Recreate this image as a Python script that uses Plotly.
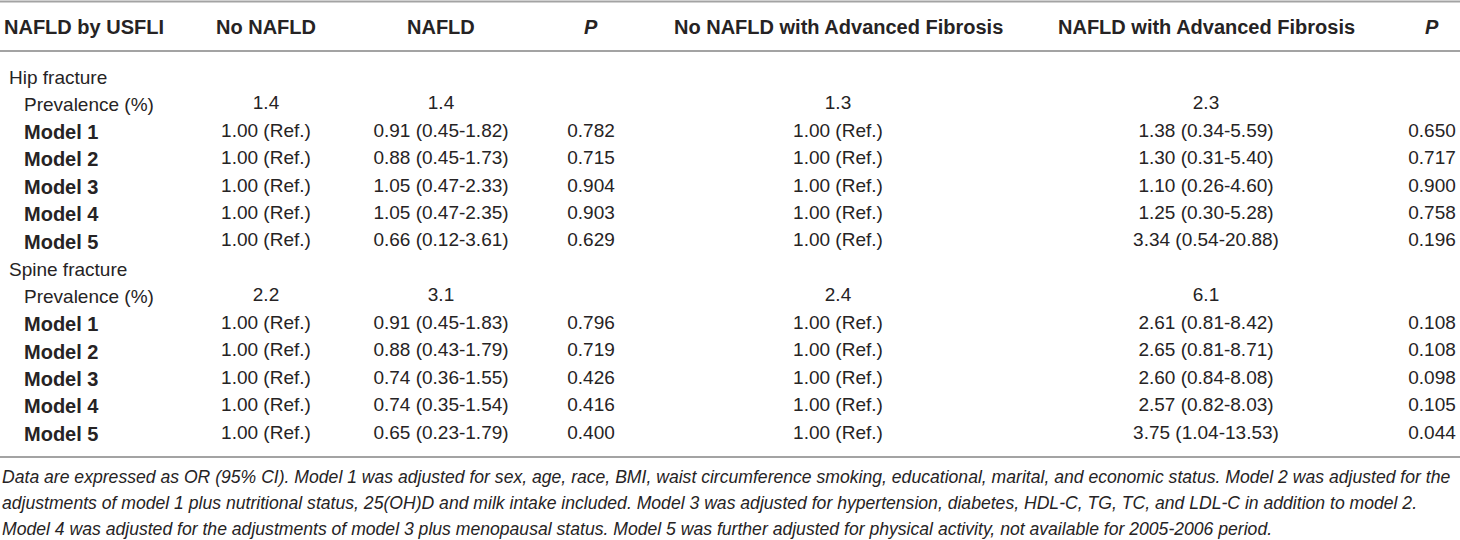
import plotly.graph_objects as go

# table content
header = ["NAFLD by USFLI", "No NAFLD", "NAFLD", "P",
          "No NAFLD with Advanced Fibrosis", "NAFLD with Advanced Fibrosis", "P"]

row_labels = ["Hip fracture", "Prevalence (%)", "Model 1", "Model 2", "Model 3", "Model 4", "Model 5",
              "Spine fracture", "Prevalence (%)", "Model 1", "Model 2", "Model 3", "Model 4", "Model 5"]
row_level = [0, 1, 2, 2, 2, 2, 2, 0, 1, 2, 2, 2, 2, 2]  # 0 group, 1 plain sub row, 2 bold model row

no_nafld = ["", "1.4", "1.00 (Ref.)", "1.00 (Ref.)", "1.00 (Ref.)", "1.00 (Ref.)", "1.00 (Ref.)",
            "", "2.2", "1.00 (Ref.)", "1.00 (Ref.)", "1.00 (Ref.)", "1.00 (Ref.)", "1.00 (Ref.)"]
nafld = ["", "1.4", "0.91 (0.45-1.82)", "0.88 (0.45-1.73)", "1.05 (0.47-2.33)", "1.05 (0.47-2.35)",
         "0.66 (0.12-3.61)",
         "", "3.1", "0.91 (0.45-1.83)", "0.88 (0.43-1.79)", "0.74 (0.36-1.55)", "0.74 (0.35-1.54)",
         "0.65 (0.23-1.79)"]
p_nafld = ["", "", "0.782", "0.715", "0.904", "0.903", "0.629",
           "", "", "0.796", "0.719", "0.426", "0.416", "0.400"]
no_nafld_af = ["", "1.3", "1.00 (Ref.)", "1.00 (Ref.)", "1.00 (Ref.)", "1.00 (Ref.)", "1.00 (Ref.)",
               "", "2.4", "1.00 (Ref.)", "1.00 (Ref.)", "1.00 (Ref.)", "1.00 (Ref.)", "1.00 (Ref.)"]
nafld_af = ["", "2.3", "1.38 (0.34-5.59)", "1.30 (0.31-5.40)", "1.10 (0.26-4.60)", "1.25 (0.30-5.28)",
            "3.34 (0.54-20.88)",
            "", "6.1", "2.61 (0.81-8.42)", "2.65 (0.81-8.71)", "2.60 (0.84-8.08)", "2.57 (0.82-8.03)",
            "3.75 (1.04-13.53)"]
p_af = ["", "", "0.650", "0.717", "0.900", "0.758", "0.196",
        "", "", "0.108", "0.108", "0.098", "0.105", "0.044"]

footnote = [
    "Data are expressed as OR (95% CI). Model 1 was adjusted for sex, age, race, BMI, waist circumference "
    "smoking, educational, marital, and economic status. Model 2 was adjusted for the",
    "adjustments of model 1 plus nutritional status, 25(OH)D and milk intake included. Model 3 was adjusted "
    "for hypertension, diabetes, HDL-C, TG, TC, and LDL-C in addition to model 2.",
    "Model 4 was adjusted for the adjustments of model 3 plus menopausal status. Model 5 was further "
    "adjusted for physical activity, not available for 2005-2006 period.",
]

# layout (pixel space of the 1460x540 page)
W, H = 1460, 540
col_x = [2, 266, 441, 591, 838, 1206, 1432]
header_y = 27
row_y0, row_step = 77, 27.45
rule_y = [1.5, 51, 457]
foot_y = [477, 503, 529]
indent = {0: 7, 1: 22, 2: 22}

FONT = "Liberation Sans, Arial, Helvetica, sans-serif"
TXT = "#262324"
RULE = "#a3a3a3"

row_y = [row_y0 + i * row_step for i in range(len(row_labels))]

fig = go.Figure()

value_cols = [no_nafld, nafld, p_nafld, no_nafld_af, nafld_af, p_af]
for cx, col in zip(col_x[1:], value_cols):
    fig.add_trace(go.Scatter(
        x=[cx] * len(col), y=row_y, text=col, mode="text",
        textposition="middle center",
        textfont=dict(family=FONT, size=19, color=TXT),
        hoverinfo="skip", showlegend=False,
    ))

annotations = []
for i, h in enumerate(header):
    txt = "<b><i>P</i></b>" if h == "P" else f"<b>{h}</b>"
    annotations.append(dict(
        x=col_x[i], y=header_y, text=txt, showarrow=False,
        xanchor="left" if i == 0 else "center", yanchor="middle",
        font=dict(family=FONT, size=20, color=TXT),
    ))

for lab, lvl, y in zip(row_labels, row_level, row_y):
    annotations.append(dict(
        x=indent[lvl], y=y, text=f"<b>{lab}</b>" if lvl == 2 else lab, showarrow=False,
        xanchor="left", yanchor="middle",
        font=dict(family=FONT, size=20 if lvl == 2 else 19, color=TXT),
    ))

for line, y in zip(footnote, foot_y):
    annotations.append(dict(
        x=0, y=y, text=f"<i>{line}</i>", showarrow=False,
        xanchor="left", yanchor="middle",
        font=dict(family=FONT, size=17.6, color=TXT),
    ))

shapes = [dict(type="line", xref="x", yref="y", x0=0, x1=W, y0=y, y1=y,
               line=dict(color=RULE, width=2)) for y in rule_y]

fig.update_layout(
    width=W, height=H,
    margin=dict(l=0, r=0, t=0, b=0),
    paper_bgcolor="white", plot_bgcolor="white",
    xaxis=dict(range=[0, W], visible=False, fixedrange=True),
    yaxis=dict(range=[H, 0], visible=False, fixedrange=True),
    annotations=annotations, shapes=shapes,
)

# drop the default body margin so the table sits at the page corner
fig.write_html("out.html", config={"displayModeBar": False},
               post_script="document.body.style.margin='0';")
